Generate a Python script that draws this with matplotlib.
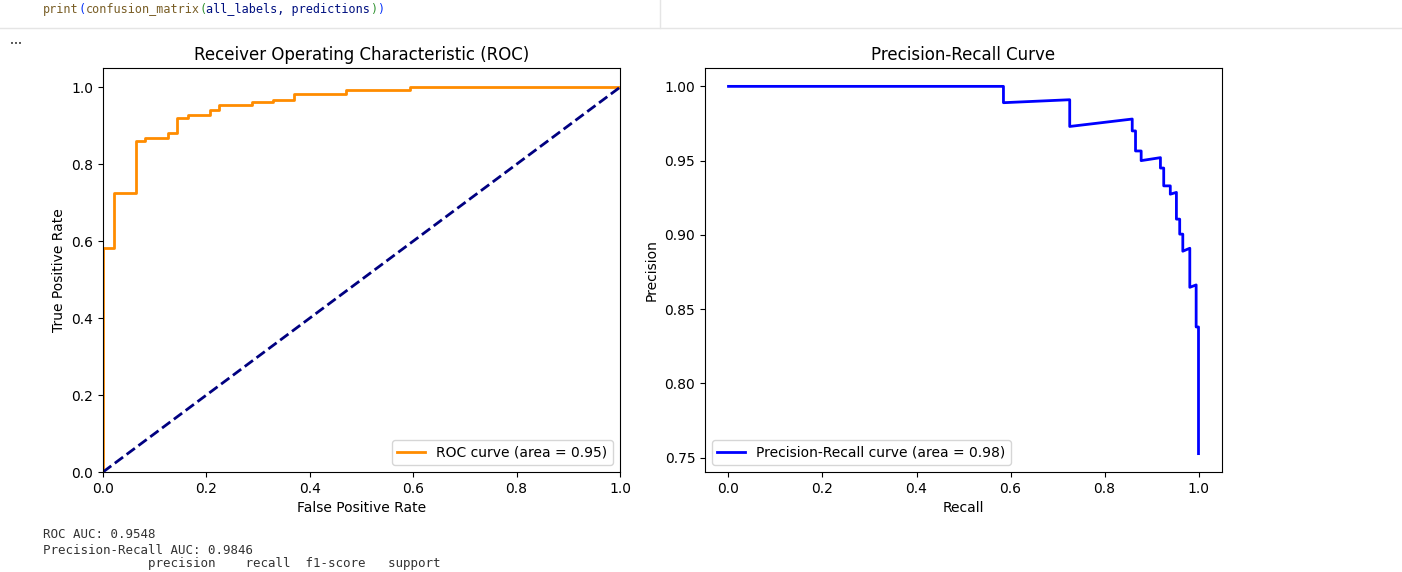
import matplotlib.pyplot as plt
from matplotlib.lines import Line2D

# ROC curve vertices
fpr = [0.0, 0.0, 0.021, 0.021, 0.063, 0.063, 0.081, 0.081, 0.125, 0.125, 0.144, 0.144,
       0.165, 0.165, 0.207, 0.207, 0.225, 0.225, 0.288, 0.288, 0.328, 0.328, 0.369, 0.369,
       0.470, 0.470, 0.594, 0.594, 1.0]
tpr = [0.0, 0.583, 0.583, 0.724, 0.724, 0.860, 0.860, 0.867, 0.867, 0.880, 0.880, 0.919,
       0.919, 0.927, 0.927, 0.940, 0.940, 0.954, 0.954, 0.961, 0.961, 0.966, 0.966, 0.983,
       0.983, 0.994, 0.994, 1.0, 1.0]
roc_auc = 0.9548

# precision-recall curve vertices
recall = [0.0, 0.585, 0.585, 0.726, 0.726, 0.859, 0.859, 0.866, 0.866, 0.878, 0.878,
          0.919, 0.919, 0.926, 0.926, 0.940, 0.940, 0.953, 0.953, 0.960, 0.960, 0.9666,
          0.9666, 0.9815, 0.9815, 0.995, 0.995, 1.0, 1.0]
precision = [1.0, 1.0, 0.989, 0.991, 0.973, 0.978, 0.970, 0.970, 0.9565, 0.9565, 0.950,
             0.952, 0.945, 0.945, 0.933, 0.933, 0.9274, 0.9286, 0.9106, 0.9106, 0.9005,
             0.9005, 0.889, 0.891, 0.8647, 0.8663, 0.838, 0.838, 0.7527]
pr_auc = 0.9846

W, H = 1402, 572
fig = plt.figure(figsize=(W / 100, H / 100), dpi=100)

# notebook bits around the output
mono = 'DejaVu Sans Mono'
cw = 7.1 / W
code = [('print', '#795e26'), ('(', '#0431fa'), ('confusion_matrix', '#795e26'), ('(', '#319331'),
        ('all_labels, predictions', '#001080'), (')', '#319331'), (')', '#0431fa')]
pos = 0
for part, col in code:
    fig.text(43 / W + pos * cw, 1 - 9 / H, part, family=mono, fontsize=8.5, color=col, va='center')
    pos += len(part)
fig.add_artist(Line2D([0, 1], [1 - 28 / H] * 2, transform=fig.transFigure, color='#e5e5e5', lw=1))
fig.add_artist(Line2D([660 / W] * 2, [1, 1 - 28 / H], transform=fig.transFigure, color='#e5e5e5', lw=1))
fig.text(16 / W, 1 - 44 / H, '•••', fontsize=5, color='#333333', ha='center', va='center')

fig.text(43 / W, 1 - 535 / H, 'ROC AUC: 0.9548', family=mono, fontsize=9, color='#333333', va='center')
fig.text(43 / W, 1 - 551 / H, 'Precision-Recall AUC: 0.9846', family=mono, fontsize=9, color='#333333', va='center')
fig.text(43 / W, 1 - 567 / H, '              precision    recall  f1-score   support',
         family=mono, fontsize=9, color='#333333', va='baseline')

ax1 = fig.add_axes([103 / W, 100 / H, 517 / W, 404 / H])
ax1.plot(fpr, tpr, color='darkorange', lw=2, label='ROC curve (area = %0.2f)' % roc_auc)
ax1.plot([0, 1], [0, 1], color='navy', lw=2, linestyle='--')
ax1.set_xlim([0.0, 1.0])
ax1.set_ylim([0.0, 1.05])
ax1.set_xlabel('False Positive Rate')
ax1.set_ylabel('True Positive Rate')
ax1.set_title('Receiver Operating Characteristic (ROC)')
ax1.legend(loc='lower right')

ax2 = fig.add_axes([705 / W, 100 / H, 517 / W, 404 / H])
ax2.plot(recall, precision, color='blue', lw=2, label='Precision-Recall curve (area = %0.2f)' % pr_auc)
ax2.set_xlabel('Recall')
ax2.set_ylabel('Precision')
ax2.set_title('Precision-Recall Curve')
ax2.legend(loc='lower left')

fig.savefig('out.png', dpi=100)
